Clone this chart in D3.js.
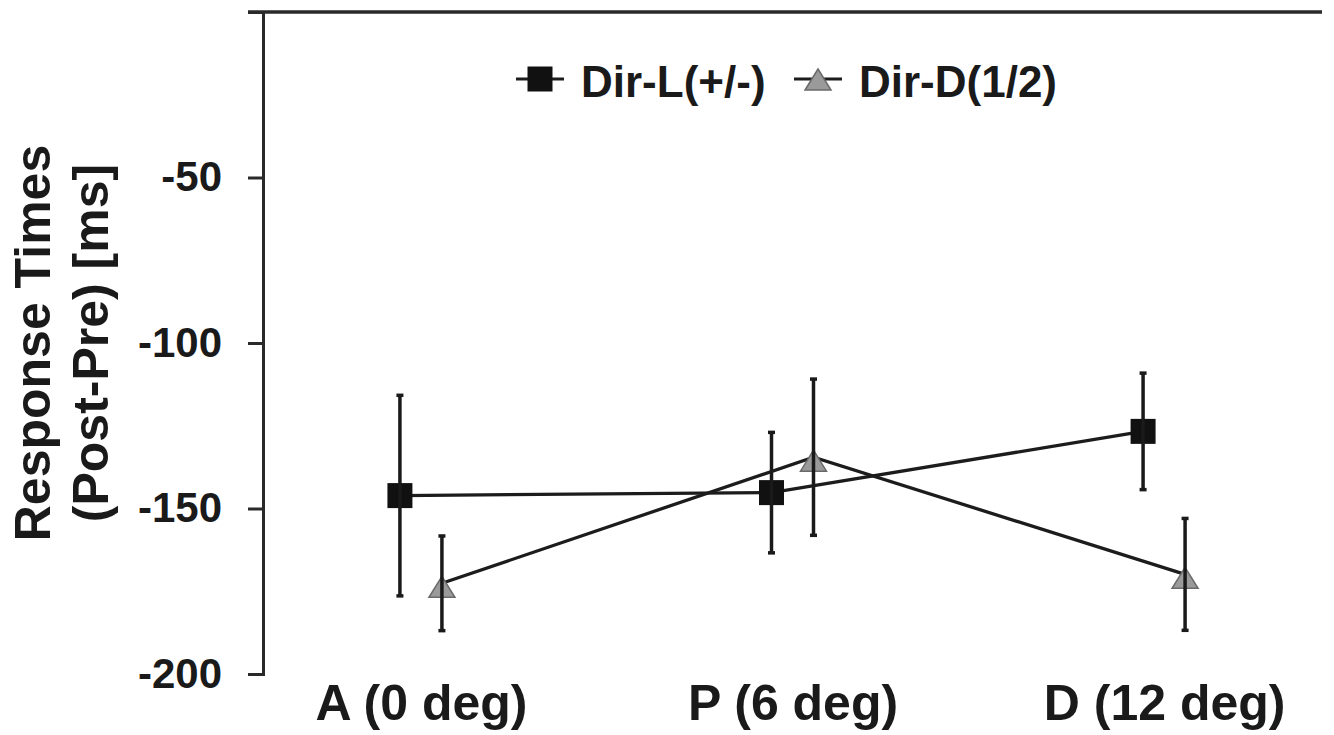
<!DOCTYPE html>
<html>
<head>
<meta charset="utf-8">
<script src="https://cdn.jsdelivr.net/npm/d3@7"></script>
<style>
  body { margin: 0; background: #fff; }
  text { font-family: "Liberation Sans", Arial, sans-serif; font-weight: bold; fill: #1a1a1a; }
</style>
</head>
<body>
<div id="chart"></div>
<script>
// values (ms, post - pre)
const categories = ["A (0 deg)", "P (6 deg)", "D (12 deg)"];
const dirL = [-146.1, -145.2, -126.7];
const dirLErr = [30.3, 18.2, 17.6];
const dirD = [-172.6, -134.5, -169.9];
const dirDErr = [14.3, 23.6, 16.9];
const yTicks = [-50, -100, -150, -200];
const legendLabels = ["Dir-L(+/-)", "Dir-D(1/2)"];

const width = 1334, height = 735,
  margin = {top: 12, right: 12, bottom: 61, left: 263};

const svg = d3.select("#chart").append("svg")
  .attr("width", width)
  .attr("height", height);

const x = d3.scalePoint()
  .domain(categories)
  .range([margin.left, width - margin.right])
  .padding(0.425);

const y = d3.scaleLinear()
  .domain([-200, 0])
  .range([height - margin.bottom, margin.top]);

const axisColor = "#2a2a2a";

// zero line across the top (the category axis sits at 0)
svg.append("line")
  .attr("x1", margin.left - 15)
  .attr("x2", width - margin.right)
  .attr("y1", y(0))
  .attr("y2", y(0))
  .attr("stroke", axisColor)
  .attr("stroke-width", 3.5);

// y axis, plain hyphen for the minus like the original
const yAxis = svg.append("g")
  .attr("transform", `translate(${margin.left},0)`)
  .call(d3.axisLeft(y).tickValues(yTicks).tickSize(15).tickSizeOuter(15).tickPadding(26)
    .tickFormat(d => String(d)));
yAxis.selectAll("path, line").attr("stroke", axisColor).attr("stroke-width", 3);
yAxis.selectAll("text")
  .style("font-size", "42px")
  .attr("fill", "#1a1a1a");

// category labels at bottom
const xAxis = svg.append("g")
  .attr("transform", `translate(0,${y(-200)})`)
  .call(d3.axisBottom(x).tickSize(0).tickPadding(10));
xAxis.select(".domain").remove();
xAxis.selectAll("text")
  .style("font-size", "50px")
  .attr("fill", "#1a1a1a")
  .attr("dy", "0.71em");

// y title
const title = svg.append("g")
  .attr("transform", `translate(0,${(margin.top + height - margin.bottom) / 2}) rotate(-90)`);
title.append("text")
  .attr("text-anchor", "middle")
  .attr("y", 50)
  .style("font-size", "50px")
  .text("Response Times");
title.append("text")
  .attr("text-anchor", "middle")
  .attr("y", 108)
  .style("font-size", "50px")
  .text("(Post-Pre) [ms]");

const series = [
  {name: legendLabels[0], values: dirL, err: dirLErr, dx: -21, shape: "square"},
  {name: legendLabels[1], values: dirD, err: dirDErr, dx: 21, shape: "triangle"}
];

const line = d3.line()
  .x((d, i) => x(categories[i]))
  .y(d => y(d));

const squarePath = d3.symbol(d3.symbolSquare, 625)();
const trianglePath = "M0,-7L13,14L-13,14Z";

function drawMarker(g, shape) {
  if (shape === "square") {
    g.append("path").attr("d", squarePath).attr("fill", "#111");
  } else {
    g.append("path").attr("d", trianglePath)
      .attr("fill", "#9a9a9a")
      .attr("stroke", "#6a6a6a")
      .attr("stroke-width", 1.5);
  }
}

for (const s of series) {
  const g = svg.append("g");

  g.append("path")
    .datum(s.values)
    .attr("fill", "none")
    .attr("stroke", "#1c1c1c")
    .attr("stroke-width", 3.3)
    .attr("d", line.x((d, i) => x(categories[i]) + s.dx));

  s.values.forEach((v, i) => {
    const cx = x(categories[i]) + s.dx;
    const m = g.append("g").attr("transform", `translate(${cx},${y(v)})`);
    drawMarker(m, s.shape);

    // error bar
    g.append("line")
      .attr("x1", cx).attr("x2", cx)
      .attr("y1", y(v + s.err[i])).attr("y2", y(v - s.err[i]))
      .attr("stroke", "#1a1a1a").attr("stroke-width", 3.5);
    for (const e of [v + s.err[i], v - s.err[i]]) {
      g.append("line")
        .attr("x1", cx - 3.5).attr("x2", cx + 3.5)
        .attr("y1", y(e)).attr("y2", y(e))
        .attr("stroke", "#1a1a1a").attr("stroke-width", 3.5);
    }
  });
}

// legend
const legendX = [540, 818];
const legend = svg.append("g").attr("transform", "translate(0,79)");
series.forEach((s, i) => {
  const lg = legend.append("g").attr("transform", `translate(${legendX[i]},0)`);
  lg.append("line")
    .attr("x1", -24).attr("x2", 24)
    .attr("stroke", "#1c1c1c").attr("stroke-width", 3);
  const m = lg.append("g");
  if (s.shape === "triangle") m.attr("transform", "translate(0,-3)");
  drawMarker(m, s.shape);
  lg.append("text")
    .attr("x", 41)
    .attr("y", 18)
    .style("font-size", "44px")
    .text(s.name);
});
</script>
</body>
</html>
